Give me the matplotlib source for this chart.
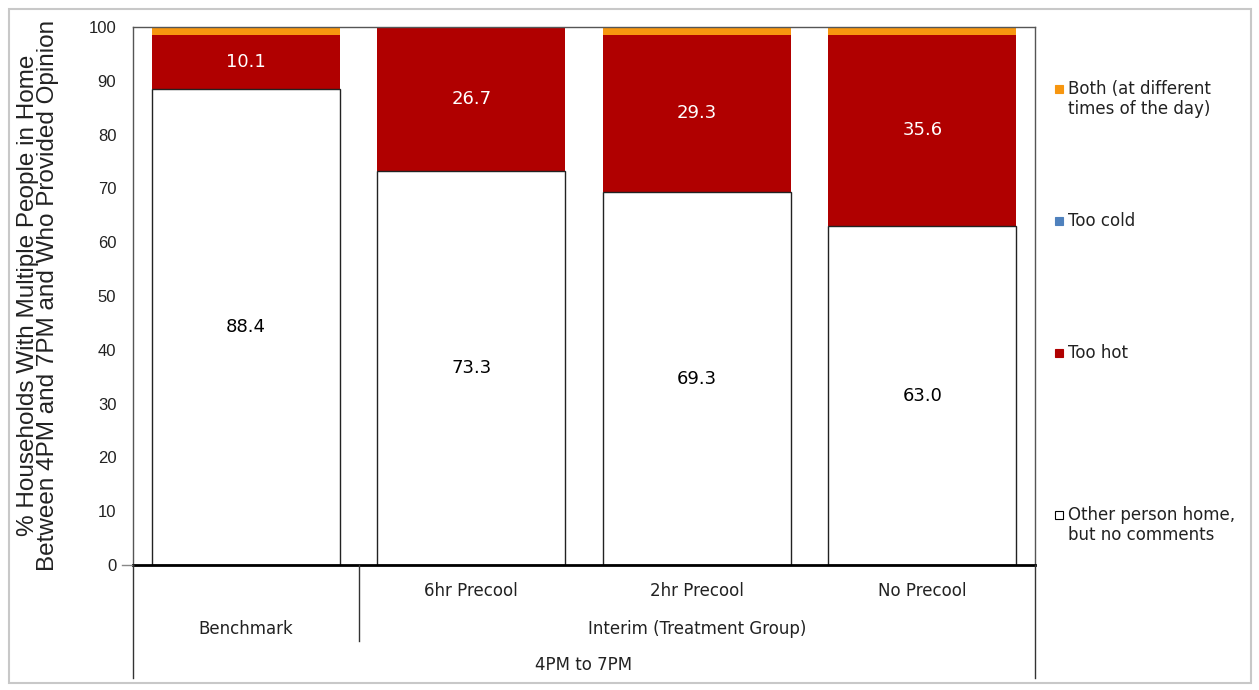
import matplotlib
matplotlib.use("Agg")
import matplotlib.pyplot as plt
from matplotlib.patches import Rectangle
from matplotlib.lines import Line2D
import numpy as np

# Survey results: share of households by comfort comment, 4PM to 7PM
groups = ["Benchmark", "6hr Precool", "2hr Precool", "No Precool"]
no_comment = [88.4, 73.3, 69.3, 63.0]
too_hot = [10.1, 26.7, 29.3, 35.6]
too_cold = [0.0, 0.0, 0.0, 0.0]
both = [1.5, 0.0, 1.4, 1.4]

series_names = ["Both (at different\ntimes of the day)", "Too cold", "Too hot",
                "Other person home,\nbut no comments"]
series_colors = ["#F7960F", "#4F81BD", "#B00000", "#FFFFFF"]
y_ticks = [0, 10, 20, 30, 40, 50, 60, 70, 80, 90, 100]
ylabel = "% Households With Multiple People in Home\nBetween 4PM and 7PM and Who Provided Opinion"
interim_label = "Interim (Treatment Group)"
period_label = "4PM to 7PM"

W, H = 1259, 690
fig = plt.figure(figsize=(W / 100, H / 100), dpi=100)
fig.patch.set_facecolor("white")

def fx(px):
    return px / W

def fy(py):
    return 1 - py / H

# chart-area border
fig.add_artist(Rectangle((fx(9), fy(683)), fx(1242), (683 - 9) / H,
                         transform=fig.transFigure, fill=False,
                         edgecolor="#C8C8C8", linewidth=1.5))

left, right, top, bottom = 133, 1035, 27, 565
ax = fig.add_axes([fx(left), fy(bottom), fx(right - left), (bottom - top) / H])

x = np.arange(len(groups))
width = 0.835
nc = np.array(no_comment)
hot = np.array(too_hot)
cold = np.array(too_cold)
bth = np.array(both)

ax.bar(x, nc, width, color=series_colors[3], edgecolor="#222222", linewidth=1.0, zorder=3)
ax.bar(x, hot, width, bottom=nc, color=series_colors[2], linewidth=0, zorder=2)
ax.bar(x, cold, width, bottom=nc + hot, color=series_colors[1], linewidth=0, zorder=2)
ax.bar(x, bth, width, bottom=nc + hot + cold, color=series_colors[0], linewidth=0, zorder=2)

for xi, a, b in zip(x, nc, hot):
    ax.text(xi, a / 2, f"{a:.1f}", ha="center", va="center", fontsize=13,
            color="black", zorder=4)
    ax.text(xi, a + b / 2, f"{b:.1f}", ha="center", va="center", fontsize=13,
            color="white", zorder=4)

ax.set_xlim(-0.5, len(groups) - 0.5)
ax.set_ylim(0, 100)
ax.set_yticks(y_ticks)
ax.set_yticklabels([str(v) for v in y_ticks], fontsize=12, color="#222222",
                   family="Liberation Sans")
ax.tick_params(axis="y", length=0, pad=12)
ax.set_xticks([])
for side in ["top", "left", "right"]:
    ax.spines[side].set_color("#555555")
    ax.spines[side].set_linewidth(1.0)
ax.spines["bottom"].set_color("black")
ax.spines["bottom"].set_linewidth(2.0)
ax.spines["bottom"].set_zorder(5)

fig.text(fx(38), fy(295), ylabel, rotation=90, ha="center", va="center",
         fontsize=17.5, color="#222222", family="Liberation Sans", linespacing=0.9)

# multi-level category axis below the plot
line_kw = dict(transform=fig.transFigure, color="#333333", linewidth=1.0)
fig.add_artist(Line2D([fx(122), fx(left)], [fy(bottom), fy(bottom)], color="#888888",
                      linewidth=1.0, transform=fig.transFigure))
fig.add_artist(Line2D([fx(left), fx(left)], [fy(bottom), fy(678)], **line_kw))
fig.add_artist(Line2D([fx(right), fx(right)], [fy(bottom), fy(678)], **line_kw))
sep = left + (right - left) / len(groups)
fig.add_artist(Line2D([fx(sep), fx(sep)], [fy(bottom), fy(641)], **line_kw))

cat_font = dict(fontsize=12, color="#222222", ha="center", va="center")
for i, g in enumerate(groups):
    xc = left + (i + 0.5) * (right - left) / len(groups)
    if i == 0:
        fig.text(fx(xc), fy(629), g, **cat_font)
    else:
        fig.text(fx(xc), fy(591), g, **cat_font)
fig.text(fx((sep + right) / 2), fy(629), interim_label, **cat_font)
fig.text(fx((left + right) / 2), fy(665), period_label, **cat_font)

# legend
leg_rows = [(89, 109), (221,), (353,), (515, 535)]
for name, color, rows in zip(series_names, series_colors, leg_rows):
    fig.add_artist(Rectangle((fx(1055), fy(rows[0] + 4)), fx(8), 8 / H,
                             transform=fig.transFigure, facecolor=color,
                             edgecolor="black" if color == "#FFFFFF" else color,
                             linewidth=0.8))
    for line, yy in zip(name.split("\n"), rows):
        fig.text(fx(1068), fy(yy), line, ha="left", va="center", fontsize=12,
                 color="#222222")

fig.savefig("out.png", dpi=100)
